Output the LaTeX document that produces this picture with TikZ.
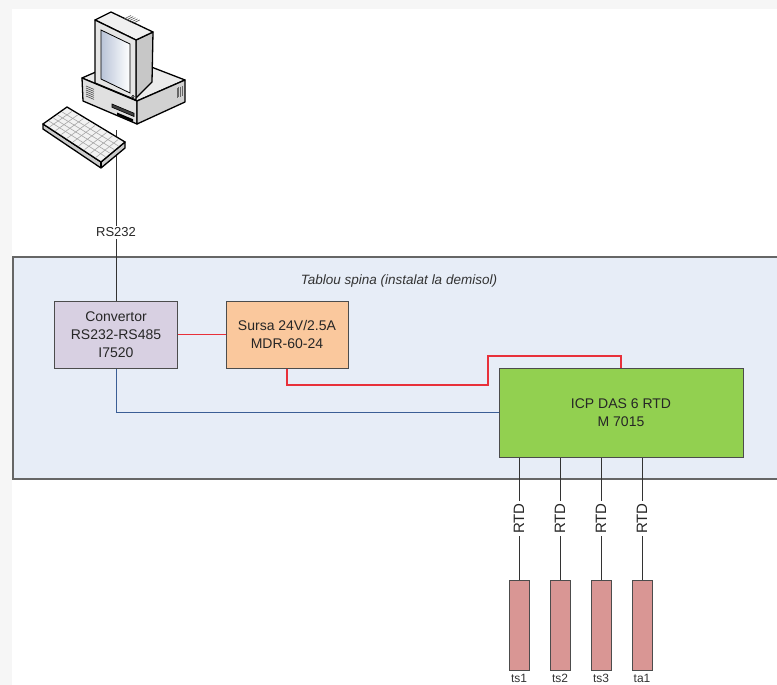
\documentclass[tikz,border=0pt]{standalone}
\usepackage{fontspec}
\setmainfont{Liberation Sans}
\usetikzlibrary{calc}

\definecolor{pagegrey}{HTML}{F6F6F6}
\definecolor{panelblue}{HTML}{E7EDF7}
\definecolor{convlilac}{HTML}{D8D0E2}
\definecolor{psupeach}{HTML}{FAC89D}
\definecolor{icpgreen}{HTML}{92D050}
\definecolor{rtdrose}{HTML}{D99694}
\definecolor{pwrred}{HTML}{E8303A}
\definecolor{busblue}{HTML}{3B5E96}
\definecolor{screenblue}{HTML}{B9C4D8}

\begin{document}
\begin{tikzpicture}[x=1pt,y=-1pt]

	\tikzset{box/.style={draw=black!70, line width=1pt, align=center, inner sep=0pt,
			font=\fontsize{14}{18}\selectfont, text=black!85}}
	\tikzset{sensor/.style={draw=black!70, line width=0.8pt, fill=rtdrose, inner sep=0pt,
			minimum width=20pt, minimum height=90pt}}
	\tikzset{wire/.style={draw=black!80, line width=0.8pt}}
	\tikzset{power/.style={draw=pwrred, line width=1.2pt}}
	\tikzset{bus/.style={draw=busblue, line width=1pt}}
	\tikzset{pcline/.style={draw=black, line width=1.3pt, line join=round}}

	\useasboundingbox (0,0) rectangle (777,685);
	\fill[pagegrey] (0,0) rectangle (777,685);
	\fill[white] (12,9) rectangle (777,685);

	% panel
	\fill[panelblue] (13,257) rectangle (790,479);
	\draw[black!60, line width=1.2pt] (790,257) -- (13,257) -- (13,479) -- (790,479);
	\node[font=\fontsize{13.5}{16}\selectfont\itshape, text=black!80] (tablou) at (399,281) {Tablou spina (instalat la demisol)};

	% modules
	\node[box, fill=convlilac, minimum width=123pt, minimum height=67pt] (conv) at (116,334.5) {Convertor\\RS232-RS485\\I7520};
	\node[box, fill=psupeach, minimum width=122pt, minimum height=67pt] (psu) at (287,334.5) {Sursa 24V/2.5A\\MDR-60-24};
	\node[box, fill=icpgreen, minimum width=244pt, minimum height=89pt] (icp) at (621,412.5) {ICP DAS 6 RTD\\M 7015};

	\draw[power] (conv.east) -- (psu.west);
	\draw[power] (psu.south) |- (488,385) -- (488,356) -| (icp.north);
	\draw[bus] (conv.south) |- (icp.west);

	% sensors
	\foreach \name/\x in {ts1/519, ts2/560, ts3/601, ta1/642}{
		\node[sensor, label={[font=\fontsize{12}{14}\selectfont, text=black!80, inner sep=1pt, label distance=3pt]below:\name}] (\name) at (\x,625) {};
		\draw[wire] (\name.north |- icp.south) -- node[fill=white, rotate=90, inner sep=2pt, font=\fontsize{15}{17}\selectfont, text=black!85] {RTD} (\name.north);
	}

	% computer
	\coordinate (pc) at (116,130);
	\draw[wire] (pc) -- node[pos=0.6, fill=white, inner sep=2pt, font=\fontsize{13}{15}\selectfont, text=black!85] (rs) {RS232} (conv.north);

	% case
	\filldraw[pcline, fill=black!8] (82,78) -- (128,58) -- (185,80) -- (137,101) -- cycle;
	\filldraw[pcline, fill=black!12] (82,78) -- (137,101) -- (137,124) -- (83,101) -- cycle;
	\filldraw[pcline, fill=black!18] (137,101) -- (185,80) -- (185,102) -- (137,124) -- cycle;
	\foreach \i in {0,...,5}
		\draw[black!70, line width=0.6pt] (86,86+2*\i) -- (94,89.4+2*\i);
	\foreach \i in {0,...,3}
		\draw[black!60, line width=0.6pt] (177+1.6*\i,88-0.7*\i) -- (177+1.6*\i,98-0.7*\i);
	\filldraw[black!75, draw=black, line width=0.6pt] (112,104) -- (134,113.2) -- (134,116.5) -- (112,107.3) -- cycle;
	\fill[black] (117,112.5) -- (133,119.2) -- (133,121.8) -- (117,115.1) -- cycle;

	% monitor
	\filldraw[pcline, fill=black!22] (136,40) -- (153,32) -- (152,82) -- (136,98) -- cycle;
	\filldraw[pcline, fill=black!6] (95,20) -- (111,12) -- (153,32) -- (136,40) -- cycle;
	\foreach \i in {0,...,4}
		\draw[black!65, line width=0.6pt] (124+2.2*\i,19+1.1*\i) -- (131+2.2*\i,15.5+1.1*\i);
	\filldraw[pcline, fill=black!10] (95,20) -- (136,40) -- (136,100) -- (95,83) -- cycle;
	\shade[left color=screenblue, right color=white, draw=black, line width=0.8pt] (101,30) -- (130,44) -- (130,93) -- (101,79) -- cycle;
	\draw[black, line width=0.6pt] (133,96.5) circle (1.3);

	% keyboard
	\coordinate (ka) at (43,124);
	\coordinate (kb) at (67,107);
	\coordinate (kc) at (125,142);
	\coordinate (kd) at (101,162);
	\filldraw[pcline, fill=black!20] (ka) -- (kd) -- (kc) -- ($(kc)+(0,6)$) -- ($(kd)+(0,6)$) -- ($(ka)+(0,5)$) -- cycle;
	\draw[pcline] (kd) -- ($(kd)+(0,6)$);
	\filldraw[pcline, fill=black!5] (ka) -- (kb) -- (kc) -- (kd) -- cycle;
	\foreach \t in {0.22,0.4,0.58,0.76}
		\draw[black!35, line width=0.6pt] ($(ka)!\t!(kb)+(1,1)$) -- ($(kd)!\t!(kc)+(-1,-1)$);
	\foreach \t in {0.1,0.2,...,0.91}
		\draw[black!35, line width=0.6pt] ($(ka)!\t!(kd)+(1,-1)$) -- ($(kb)!\t!(kc)+(-1,1)$);

\end{tikzpicture}
\end{document}
